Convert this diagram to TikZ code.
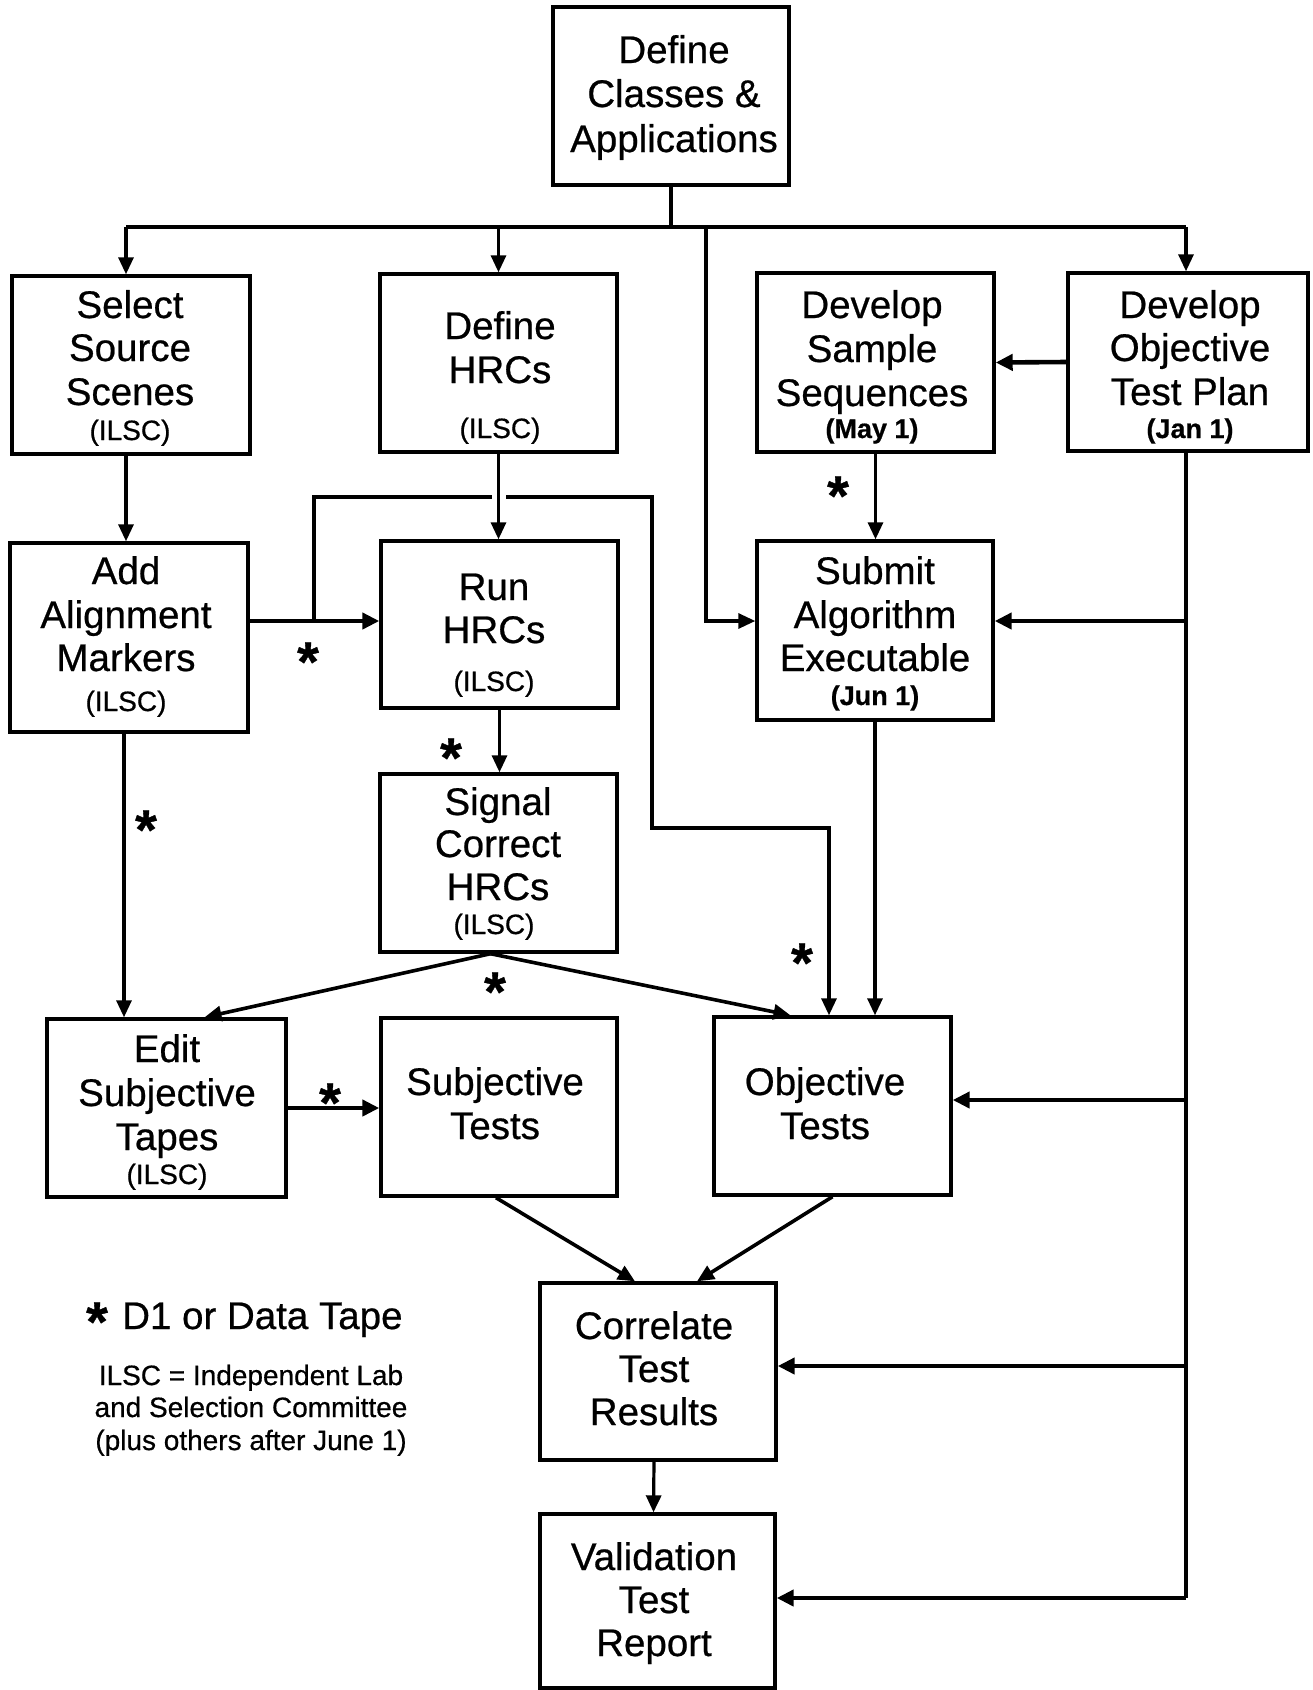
\documentclass[tikz,border=0pt]{standalone}
\usepackage{fontspec}
\setmainfont{Liberation Sans}[FakeBold=0.6]
\usetikzlibrary{arrows.meta,calc}
\newcommand\mybox[5]{\node[box, minimum width=#4pt, minimum height=#5pt] (#1) at (#2,#3) {};}
\begin{document}
\begin{tikzpicture}[x=1pt,y=-1pt,
  box/.style={draw, line width=3.4pt, fill=white, inner sep=0pt},
  big/.style={font=\fontsize{38.5}{44}\selectfont, anchor=base, inner sep=0pt},
  small/.style={font=\fontsize{28}{32}\selectfont, anchor=base, inner sep=0pt},
  date/.style={font=\fontsize{27}{32}\selectfont\bfseries, anchor=base, inner sep=0pt},
  star/.style={font=\fontsize{56}{56}\selectfont\bfseries, anchor=base, inner sep=0pt},
  line/.style={line width=3.2pt},
  conn/.style={line width=3.2pt, -{Triangle[length=17pt,width=15pt]}},
  slant/.style={line width=3.6pt, -{Triangle[length=17pt,width=15pt]}},
  heavy/.style={line width=4.6pt, -{Triangle[length=17pt,width=16pt]}},
]
\useasboundingbox (0,0) rectangle (1313,1690);

% boxes
\mybox{dc}{671}{96}{236}{178}
\mybox{ss}{131}{365}{238}{178}
\mybox{dh}{498.5}{363}{237}{178}
\mybox{ds}{875.5}{362.5}{237}{179}
\mybox{do}{1188}{362}{240}{178}
\mybox{aa}{129}{637.5}{238}{189}
\mybox{rh}{499.5}{624.5}{237}{167}
\mybox{sa}{875}{630.5}{236}{179}
\mybox{sc}{498.5}{863}{237}{178}
\mybox{es}{166.5}{1108}{239}{178}
\mybox{st}{499}{1107}{236}{178}
\mybox{ot}{832.5}{1106}{237}{178}
\mybox{cr}{658}{1371.5}{236}{177}
\mybox{vr}{657.5}{1601}{235}{174}

% texts
\node[big] at (674,63) {Define};
\node[big] at (674,107) {Classes \&};
\node[big] at (674,152) {Applications};

\node[big] at (130,318) {Select};
\node[big] at (130,361) {Source};
\node[big] at (130,405) {Scenes};
\node[small] at (130,440) {(ILSC)};

\node[big] at (500,339) {Define};
\node[big] at (500,383) {HRCs};
\node[small] at (500,438) {(ILSC)};

\node[big] at (872,318) {Develop};
\node[big] at (872,362) {Sample};
\node[big] at (872,406) {Sequences};
\node[date] at (872,438) {(May 1)};

\node[big] at (1190,318) {Develop};
\node[big] at (1190,361) {Objective};
\node[big] at (1190,405) {Test Plan};
\node[date] at (1190,438) {(Jan 1)};

\node[big] at (126,584) {Add};
\node[big] at (126,628) {Alignment};
\node[big] at (126,671) {Markers};
\node[small] at (126,711) {(ILSC)};

\node[big] at (494,600) {Run};
\node[big] at (494,643) {HRCs};
\node[small] at (494,691) {(ILSC)};

\node[big] at (875,584) {Submit};
\node[big] at (875,628) {Algorithm};
\node[big] at (875,671) {Executable};
\node[date] at (875,705) {(Jun 1)};

\node[big] at (498,815) {Signal};
\node[big] at (498,857) {Correct};
\node[big] at (498,900) {HRCs};
\node[small] at (494,934) {(ILSC)};

\node[big] at (167,1062) {Edit};
\node[big] at (167,1106) {Subjective};
\node[big] at (167,1150) {Tapes};
\node[small] at (167,1184) {(ILSC)};

\node[big] at (495,1095) {Subjective};
\node[big] at (495,1139) {Tests};

\node[big] at (825,1095) {Objective};
\node[big] at (825,1139) {Tests};

\node[big] at (654,1339) {Correlate};
\node[big] at (654,1382) {Test};
\node[big] at (654,1425) {Results};

\node[big] at (654,1570) {Validation};
\node[big] at (654,1613) {Test};
\node[big] at (654,1656) {Report};

% legend
\node[star] at (97,1341) {*};
\node[big, anchor=base west] at (122,1329) {D1 or Data Tape};
\node[small] at (251,1385) {ILSC = Independent Lab};
\node[small] at (251,1417) {and Selection Committee};
\node[small] at (251,1450) {(plus others after June 1)};

% coordinates
\coordinate (busL) at (126,227);
\coordinate (busM) at (706,227);
\coordinate (busR) at (1186,227);
\coordinate (ar) at (0,621);
\coordinate (t1) at (1186,1100);
\coordinate (t2) at (1186,1366);
\coordinate (tb) at (1186,1598);
\coordinate (l0) at (314,621);
\coordinate (l1) at (314,497);
\coordinate (l2) at (652,497);
\coordinate (l3) at (652,828);
\coordinate (l4) at (829,828);
\coordinate (aes) at (124,0);

% connectors
\draw[line] (dc.south) -- (dc.south |- busL);
\draw[line, line width=4pt] (busL) -- (busR);
\draw[conn] (busL) -- (busL |- ss.north);
\draw[conn] (dh.north |- busL) -- (dh.north);
\draw[conn] (busR) -- (busR |- do.north);
\draw[conn] (busM) -- (busM |- ar) -- (sa.west |- ar);
\draw[heavy] (do.west) -- (ds.east);
\draw[conn] (ds.south) -- (ds.south |- sa.north);
\draw[line] (do.south -| busR) -- (tb);
\draw[heavy] (tb) -- (vr.east |- tb);
\draw[heavy] (busR |- ar) -- (sa.east |- ar);
\draw[heavy] (t1) -- (ot.east |- t1);
\draw[heavy] (t2) -- (cr.east |- t2);
\draw[conn] (ss.south -| busL) -- (aa.north -| busL);
\draw[heavy] (aa.east |- ar) -- (rh.west |- ar);
\draw[conn] (l0) -- (l1) -- (l2) -- (l3) -- (l4) -- (l4 |- ot.north);
\fill[white] ($(dh.south |- l1)+(-7,-5)$) rectangle ($(dh.south |- l1)+(7,5)$);
\draw[conn] (dh.south) -- (dh.south |- rh.north);
\draw[conn] (rh.south) -- (rh.south |- sc.north);
\draw[conn] (aa.south -| aes) -- (es.north -| aes);
\draw[slant] ([xshift=-8pt]sc.south) -- ([xshift=38pt]es.north);
\draw[slant] ([xshift=-8pt]sc.south) -- ([xshift=-42pt]ot.north);
\draw[conn] (sa.south) -- (sa.south |- ot.north);
\draw[heavy] (es.east) -- (es.east -| st.west);
\draw[slant] ([xshift=-3pt]st.south) -- ([xshift=-23pt]cr.north);
\draw[slant] (ot.south) -- ([xshift=39pt]cr.north);
\draw[conn] ([xshift=-4pt]cr.south) -- ([xshift=-4pt]vr.north);

% stars
\node[star] at (838,515) {*};
\node[star] at (308,681) {*};
\node[star] at (451,777) {*};
\node[star] at (146,849) {*};
\node[star] at (802,982) {*};
\node[star] at (495,1011) {*};
\node[star] at (330,1122) {*};
\end{tikzpicture}
\end{document}
